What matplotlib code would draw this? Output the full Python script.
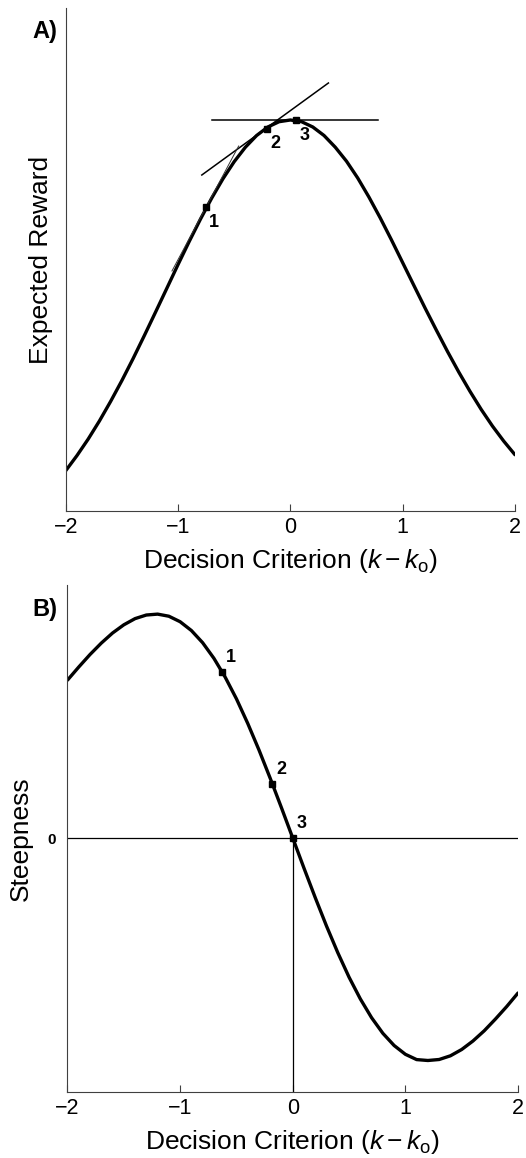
import numpy as np
import matplotlib
matplotlib.use('Agg')
import matplotlib.pyplot as plt

plt.rcParams['font.family'] = ['Liberation Sans', 'DejaVu Sans']
plt.rcParams['mathtext.fontset'] = 'custom'
plt.rcParams['mathtext.rm'] = 'Liberation Sans'
plt.rcParams['mathtext.it'] = 'Liberation Sans:italic'

# criterion values shared by both panels
crit = np.round(np.arange(-2.0, 2.01, 0.1), 1)

# panel A: expected reward (arbitrary units)
reward = [40.3, 55.4, 71.9, 90.0, 109.6, 130.4, 152.4, 175.4, 198.9, 222.6,
          246.4, 269.6, 291.9, 312.9, 332.2, 349.3, 363.8, 375.5, 384.0, 389.3,
          391.0,
          389.3, 384.0, 375.5, 363.8, 349.8, 333.0, 313.9, 293.2, 271.2,
          248.4, 225.6, 202.9, 180.9, 159.4, 138.9, 119.6, 101.5, 84.9, 69.9, 56.3]
pts_a_x = [-0.75, -0.205, 0.054]
pts_a_y = [304, 382, 390.5]
tan1_x = [-1.054, -0.46]
tan1_y = [240, 365]
tan2_x = [-0.788, 0.339]
tan2_y = [336, 428]
flat_x = [-0.696, 0.777]
flat_y = [391, 391]

# panel B: steepness (slope of expected reward)
steep = [157.9, 171.0, 183.5, 194.9, 205.0, 213.2, 219.4, 223.0, 223.9, 221.8,
         216.3, 207.5, 195.3, 179.7, 160.9, 139.2, 114.7, 88.1, 59.7, 30.2,
         0.0,
         -30.2, -59.7, -88.1, -114.7, -139.2, -160.9, -179.7, -195.3, -207.5,
         -216.3, -221.6, -222.5, -221.5, -217.8, -211.5, -203.0, -192.8, -181.0, -168.5, -155.0]
pts_b_x = [-0.63, -0.18, 0.0]
pts_b_y = [166, 54, 0]

point_names = ['1', '2', '3']
xticks = [-2, -1, 0, 1, 2]
xlab = r'Decision Criterion ($k - k_{\rm o}$)'

fig = plt.figure(figsize=(5.26, 11.58), dpi=100)
ax1 = fig.add_axes([0.1249, 0.5587, 0.8541, 0.4344])
ax2 = fig.add_axes([0.1283, 0.0570, 0.8565, 0.4378])


def style(ax):
    ax.spines['top'].set_visible(False)
    ax.spines['right'].set_visible(False)
    for s in ['left', 'bottom']:
        ax.spines[s].set_linewidth(0.8)
        ax.spines[s].set_color('0.25')
    ax.set_xlim(-2, 2)
    ax.set_xticks(xticks)
    ax.set_xticklabels(['\u22122', '\u22121', '0', '1', '2'])
    ax.tick_params(axis='x', direction='in', length=5, width=0.8,
                   labelsize=15.5, pad=4, color='0.25')
    ax.set_xlabel(xlab, fontsize=19, labelpad=7)


# --- A ---
style(ax1)
ax1.plot(crit, reward, color='black', lw=2.4, solid_capstyle='round')
ax1.plot(flat_x, flat_y, color='black', lw=1.1)
ax1.plot(tan2_x, tan2_y, color='black', lw=1.1)
ax1.plot(tan1_x, tan1_y, color='0.2', lw=0.7)
ax1.plot(pts_a_x, pts_a_y, 's', color='black', ms=5)
for name, x, y in zip(point_names, pts_a_x, pts_a_y):
    ax1.annotate(name, (x, y), xytext=(8, -15), textcoords='offset pixels',
                 ha='center', va='center', fontsize=13, fontweight='bold')
ax1.set_ylim(0, 503)
ax1.set_yticks([])
ax1.set_ylabel('Expected Reward', fontsize=19)
ax1.yaxis.set_label_coords(-0.028, 0.5)

# --- B ---
style(ax2)
ax2.set_ylim(-254, 253)
ax2.axhline(0, color='black', lw=0.9)
ax2.plot([0, 0], [-254, 0], color='black', lw=0.9)
ax2.plot(crit, steep, color='black', lw=2.4, solid_capstyle='round')
ax2.plot(pts_b_x, pts_b_y, 's', color='black', ms=5)
for name, x, y in zip(point_names, pts_b_x, pts_b_y):
    ax2.annotate(name, (x, y), xytext=(9, 15), textcoords='offset pixels',
                 ha='center', va='center', fontsize=13, fontweight='bold')
ax2.set_yticks([0])
ax2.set_yticklabels(['0'], fontweight='bold')
ax2.tick_params(axis='y', length=0, labelsize=11, pad=8)
ax2.set_ylabel('Steepness', fontsize=19)
ax2.yaxis.set_label_coords(-0.077, 0.5)

fig.text(32 / 526, 1 - 38 / 1158, 'A)', fontsize=17, fontweight='bold',
         ha='left', va='baseline')
fig.text(32 / 526, 1 - 616 / 1158, 'B)', fontsize=17, fontweight='bold',
         ha='left', va='baseline')

fig.savefig('out.png', dpi=100)
